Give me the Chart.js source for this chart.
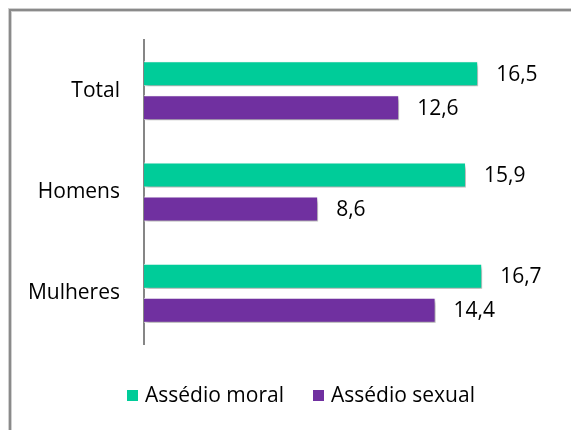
<!DOCTYPE html>
<html>
<head>
<meta charset="utf-8">
<script src="https://cdn.jsdelivr.net/npm/chart.js@4.4.1/dist/chart.umd.min.js"></script>
<style>
  html, body { margin: 0; padding: 0; background: #fff; }
  #wrap { width: 571px; height: 430px; position: relative; }
</style>
</head>
<body>
<div id="wrap"><canvas id="grafica" width="571" height="430"></canvas></div>
<script>
// dados
const categorias = ["Total", "Homens", "Mulheres"]
const assedioMoral = [16.5, 15.9, 16.7]
const assedioSexual = [12.6, 8.6, 14.4]
const nomesSeries = ["Assédio moral", "Assédio sexual"]

const corMoral = "#00cc99"
const corSexual = "#7030a0"
const fonte = "'Open Sans', sans-serif"
const tamFonte = 21

// moldura (só esquerda e topo aparecem no recorte)
const moldura = {
  id: "moldura",
  beforeDraw(chart) {
    const ctx = chart.ctx
    ctx.save()
    ctx.fillStyle = "#d0d0d0"
    ctx.fillRect(8, 8, 563, 4)
    ctx.fillRect(8, 8, 4, 422)
    ctx.fillStyle = "#8a8a8a"
    ctx.fillRect(9, 9, 562, 2)
    ctx.fillRect(9, 9, 2, 421)
    ctx.restore()
  }
}

// sombra das barras
const sombra = {
  id: "sombra",
  beforeDatasetsDraw(chart) {
    const ctx = chart.ctx
    ctx.save()
    ctx.shadowColor = "rgba(0,0,0,0.35)"
    ctx.shadowBlur = 4
    ctx.shadowOffsetX = 2
    ctx.shadowOffsetY = 3
  },
  afterDatasetsDraw(chart) {
    chart.ctx.restore()
  }
}

// rótulos com vírgula decimal
const rotulos = {
  id: "rotulos",
  afterDatasetsDraw(chart) {
    const ctx = chart.ctx
    ctx.save()
    ctx.font = tamFonte + "px " + fonte
    ctx.fillStyle = "#000"
    ctx.textAlign = "left"
    ctx.textBaseline = "middle"
    chart.data.datasets.forEach((ds, i) => {
      const meta = chart.getDatasetMeta(i)
      meta.data.forEach((bar, j) => {
        const txt = ds.data[j].toFixed(1).replace(".", ",")
        ctx.fillText(txt, bar.x + 18, bar.y + 1)
      })
    })
    ctx.restore()
  }
}

// legenda desenhada à mão para acertar espaçamento
const legenda = {
  id: "legenda",
  afterDraw(chart) {
    const ctx = chart.ctx
    ctx.save()
    ctx.font = tamFonte + "px " + fonte
    ctx.textBaseline = "middle"
    ctx.textAlign = "left"
    const y = 396
    const xs = [127, 313]
    chart.data.datasets.forEach((ds, i) => {
      ctx.fillStyle = ds.backgroundColor
      ctx.fillRect(xs[i], y - 6, 11, 11)
      ctx.fillStyle = "#000"
      ctx.fillText(ds.label, xs[i] + 18, y)
    })
    ctx.restore()
  }
}

new Chart(document.getElementById("grafica"), {
  type: "bar",
  data: {
    labels: categorias,
    datasets: [
      {
        label: nomesSeries[0],
        data: assedioMoral,
        backgroundColor: corMoral,
        borderColor: "#ffffff",
        borderWidth: 1,
        categoryPercentage: 0.671,
        barPercentage: 0.735
      },
      {
        label: nomesSeries[1],
        data: assedioSexual,
        backgroundColor: corSexual,
        borderColor: "#ffffff",
        borderWidth: 1,
        categoryPercentage: 0.671,
        barPercentage: 0.735
      }
    ]
  },
  options: {
    indexAxis: "y",
    responsive: false,
    animation: false,
    layout: { padding: { top: 40, bottom: 86, left: 0, right: 22 } },
    plugins: {
      legend: { display: false },
      tooltip: { enabled: false }
    },
    scales: {
      x: {
        display: false,
        min: 0,
        max: 20
      },
      y: {
        afterFit(scale) { scale.width = 144 },
        grid: { display: false, drawTicks: false },
        border: { display: true, color: "#868686", width: 2 },
        ticks: {
          color: "#000",
          padding: 24,
          font: { family: fonte, size: tamFonte }
        }
      }
    }
  },
  plugins: [moldura, sombra, rotulos, legenda]
})
</script>
</body>
</html>
